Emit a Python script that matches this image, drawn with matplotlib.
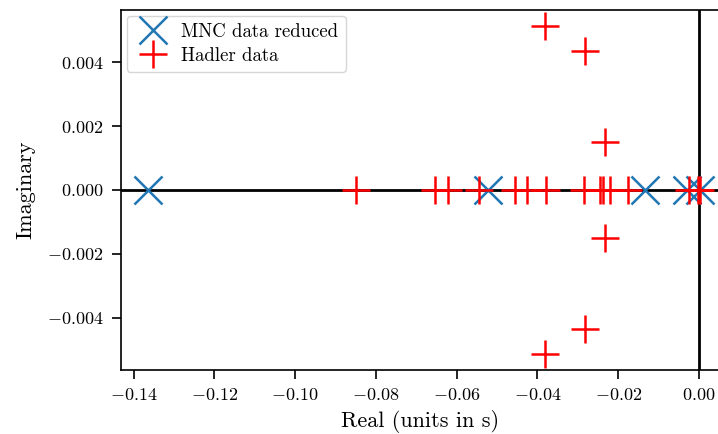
import numpy as np
import matplotlib
matplotlib.use('Agg')
import matplotlib.pyplot as plt

plt.rcParams['font.family'] = 'serif'
plt.rcParams['font.serif'] = ['cmr10', 'DejaVu Serif']
plt.rcParams['mathtext.fontset'] = 'cm'
plt.rcParams['axes.formatter.use_mathtext'] = True
plt.rcParams['axes.unicode_minus'] = True

# eigenvalues
mnc_real = [-0.1364, -0.0522, -0.0134, -0.0030, 0.0003]
mnc_imag = [0.0, 0.0, 0.0, 0.0, 0.0]

hadler_real = [-0.0849, -0.0654, -0.0621, -0.0544, -0.0456, -0.0427, -0.0379,
               -0.0285, -0.0245, -0.0238, -0.0221, -0.0177, -0.0024, -0.0002, 0.0002,
               -0.0381, -0.0381, -0.0282, -0.0282, -0.0233, -0.0233]
hadler_imag = [0.0, 0.0, 0.0, 0.0, 0.0, 0.0, 0.0,
               0.0, 0.0, 0.0, 0.0, 0.0, 0.0, 0.0, 0.0,
               0.00513, -0.00513, 0.00436, -0.00436, 0.00151, -0.00151]

fig = plt.figure(figsize=(7.18, 4.34), dpi=100)
ax = fig.add_axes([0.1685, 0.1475, 0.833, 0.8295])

ax.axhline(0, color='black', lw=2, zorder=1)
ax.axvline(0, color='black', lw=2, zorder=1)

ax.plot(mnc_real, mnc_imag, 'x', color='tab:blue', ms=20, mew=1.8,
        label='MNC data reduced', zorder=2)
ax.plot(hadler_real, hadler_imag, '+', color='red', ms=20, mew=1.8,
        label='Hadler data', zorder=3)

ax.set_xlim(-0.1431, 0.00495)
ax.margins(y=0.05)
ax.set_xticks(np.arange(-0.14, 0.001, 0.02))
ax.set_yticks([-0.004, -0.002, 0.0, 0.002, 0.004])
ax.set_xlabel('Real (units in s)', fontsize=16, labelpad=5)
ax.set_ylabel('Imaginary', fontsize=16, labelpad=8)
ax.tick_params(labelsize=13, width=1.2, length=6.5, pad=6)
for s in ax.spines.values():
    s.set_linewidth(1.2)

ax.legend(loc='upper left', fontsize=13.5, borderaxespad=0.3, handletextpad=0.5,
          borderpad=0.4, labelspacing=0.3)

fig.savefig('out.png', dpi=100)
